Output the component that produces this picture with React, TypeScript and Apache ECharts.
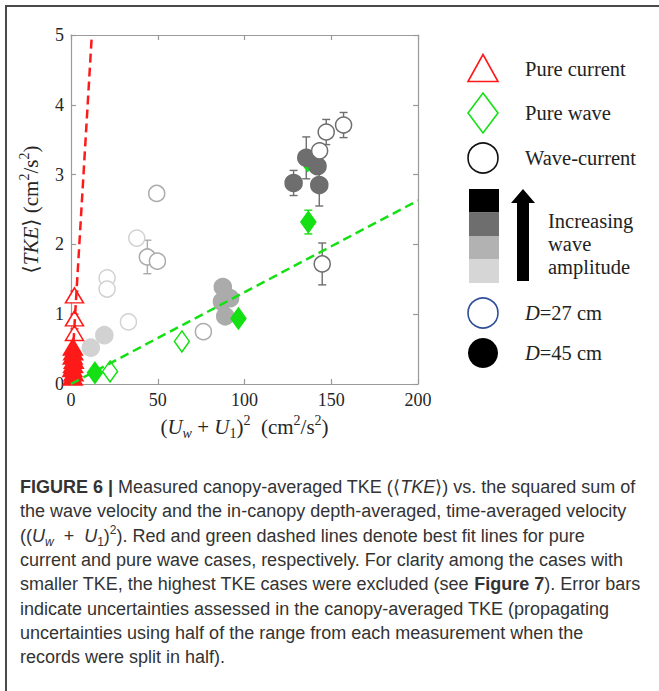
import React, { useEffect, useRef } from "react";
import * as echarts from "echarts";

// ---- data: [x (cm^2/s^2), <TKE> (cm^2/s^2), error half-range]
const pureCurrentFilled = [
  [1.0, 0.1, 0.03], [1.5, 0.16, 0.03], [0.8, 0.22, 0.03], [1.2, 0.28, 0.03],
  [1.6, 0.34, 0.03], [1.0, 0.4, 0.03], [1.3, 0.46, 0.03], [1.1, 0.53, 0.03],
];
const pureCurrentOpen = [[2.0, 1.27, 0.06], [2.0, 0.94, 0.06], [2.0, 0.73, 0.06]];
const pureWaveFilled = [[13.8, 0.16, 0.03], [96.5, 0.94, 0.03], [136.5, 3.2, 0.1], [136.8, 2.32, 0.17]];
const pureWaveOpen = [[22.5, 0.18, 0.04], [63.9, 0.61, 0.04]];
const lightFilled = [[11.4, 0.52, 0.03], [19.2, 0.7, 0.03]];
const lightOpen = [[20.8, 1.52, 0.04], [20.8, 1.36, 0.04], [33.1, 0.89, 0.04], [37.9, 2.09, 0.04]];
const mediumOpen = [[49.4, 2.73, 0.04], [44.0, 1.82, 0.24], [49.8, 1.76, 0.04], [76.3, 0.75, 0.04]];
const mediumFilled = [[87.5, 1.39, 0.03], [91.7, 1.23, 0.03], [87.0, 1.18, 0.03], [88.9, 0.97, 0.03]];
const darkFilled = [[128.3, 2.88, 0.18], [135.6, 3.24, 0.3], [142.1, 3.12, 0.05], [143.1, 2.85, 0.3]];
const darkOpen = [[143.3, 3.34, 0.05], [147.1, 3.61, 0.18], [157.1, 3.71, 0.18], [144.8, 1.72, 0.3]];
const currentFit = [[0, 0], [12, 5]];
const waveFit = [[0, 0], [200, 2.63]];

const xMin = 0, xMax = 200, xStep = 50;
const yMin = 0, yMax = 5, yStep = 1;

const legendLabels = ["Pure current", "Pure wave", "Wave-current"];
const ampLabels = ["Increasing", "wave", "amplitude"];
const captionLines = [
  "{b|FIGURE 6 |} Measured canopy-averaged TKE (⟨{i|TKE}⟩) vs. the squared sum of",
  "the wave velocity and the in-canopy depth-averaged, time-averaged velocity",
  "(({i|U}{subi|w}  +  {i|U}{sub|1}){sup|2}). Red and green dashed lines denote best fit lines for pure",
  "current and pure wave cases, respectively. For clarity among the cases with",
  "smaller TKE, the highest TKE cases were excluded (see {b|Figure 7}). Error bars",
  "indicate uncertainties assessed in the canopy-averaged TKE (propagating",
  "uncertainties using half of the range from each measurement when the",
  "records were split in half).",
];

const RED = "#ff1a1a";
const GREEN = "#14e014";
const LIGHT = "#d2d2d2";
const MED = "#ababab";
const DARK = "#6e6e6e";
const SERIF = "'Liberation Serif', 'DejaVu Serif', serif";
const SANS = "'Liberation Sans', Arial, sans-serif";
const CAP = 18;

function errSeries(data: number[][], color: string) {
  return {
    type: "custom",
    data,
    encode: { x: 0, y: 1 },
    silent: true,
    renderItem: (_p: any, api: any) => {
      const x = api.value(0), y = api.value(1), e = api.value(2);
      const t = api.coord([x, y + e]);
      const b = api.coord([x, y - e]);
      const hw = 4;
      const st = { stroke: color, lineWidth: 1.4 };
      return {
        type: "group",
        children: [
          { type: "line", shape: { x1: t[0], y1: t[1], x2: b[0], y2: b[1] }, style: st },
          { type: "line", shape: { x1: t[0] - hw, y1: t[1], x2: t[0] + hw, y2: t[1] }, style: st },
          { type: "line", shape: { x1: b[0] - hw, y1: b[1], x2: b[0] + hw, y2: b[1] }, style: st },
        ],
      };
    },
  };
}

function scatter(data: number[][], symbol: string, size: any, fill: string, border: string) {
  return {
    type: "scatter",
    data: data.map((d) => [d[0], d[1]]),
    symbol,
    symbolSize: size,
    itemStyle: { color: fill, borderColor: border, borderWidth: 1.5, opacity: 1 },
    silent: true,
  };
}

const axisLineStyle = { color: "#9a9a9a", width: 1.2 };
const nameRich = {
  i: { fontStyle: "italic", fontSize: 21, fontFamily: SERIF, color: "#262626" },
  subi: { fontStyle: "italic", fontSize: 14, fontFamily: SERIF, color: "#262626", verticalAlign: "bottom", lineHeight: 14 },
  sub: { fontSize: 14, fontFamily: SERIF, color: "#262626", verticalAlign: "bottom", lineHeight: 14 },
  sup: { fontSize: 14, fontFamily: SERIF, color: "#262626", verticalAlign: "top", lineHeight: 14 },
};

export default function App() {
  const ref = useRef<HTMLDivElement>(null);
  useEffect(() => {
    const chart = echarts.init(ref.current!, null, { renderer: "svg" });
    const legendTextStyle = { fontSize: 20.5, fontFamily: SERIF, fill: "#222", verticalAlign: "middle" };
    const legItalic = { i: { fontStyle: "italic", fontSize: 20.5, fontFamily: SERIF, fill: "#222" } };
    const graphics: any[] = [
      { type: "rect", shape: { x: 6, y: 6, width: 800, height: 800 }, style: { fill: "none", stroke: "#4a4a4a", lineWidth: 2 } },
      { type: "polygon", shape: { points: [[468, 81.5], [498, 81.5], [483, 54.5]] }, style: { fill: "none", stroke: RED, lineWidth: 1.6 } },
      { type: "polygon", shape: { points: [[483, 93], [498, 113], [483, 133], [468, 113]] }, style: { fill: "none", stroke: GREEN, lineWidth: 1.6 } },
      { type: "circle", shape: { cx: 483, cy: 158, r: 15 }, style: { fill: "none", stroke: "#111", lineWidth: 1.6 } },
      { type: "rect", shape: { x: 469, y: 189, width: 30, height: 23.5 }, style: { fill: "#000" } },
      { type: "rect", shape: { x: 469, y: 212.5, width: 30, height: 23.5 }, style: { fill: "#6e6e6e" } },
      { type: "rect", shape: { x: 469, y: 236, width: 30, height: 23.5 }, style: { fill: "#b2b2b2" } },
      { type: "rect", shape: { x: 469, y: 259.5, width: 30, height: 23.5 }, style: { fill: "#d6d6d6" } },
      { type: "polygon", shape: { points: [[517, 281], [529, 281], [529, 203], [535, 203], [523, 189], [511, 203], [517, 203]] }, style: { fill: "#000" } },
      { type: "circle", shape: { cx: 483, cy: 313, r: 15 }, style: { fill: "none", stroke: "#2f4f9a", lineWidth: 1.6 } },
      { type: "circle", shape: { cx: 483, cy: 353, r: 15 }, style: { fill: "#000" } },
      { type: "text", x: 525, y: 69, style: { ...legendTextStyle, text: legendLabels[0] } },
      { type: "text", x: 525, y: 113, style: { ...legendTextStyle, text: legendLabels[1] } },
      { type: "text", x: 525, y: 158, style: { ...legendTextStyle, text: legendLabels[2] } },
      { type: "text", x: 548, y: 221, style: { ...legendTextStyle, text: ampLabels[0] } },
      { type: "text", x: 548, y: 244, style: { ...legendTextStyle, text: ampLabels[1] } },
      { type: "text", x: 548, y: 267, style: { ...legendTextStyle, text: ampLabels[2] } },
      { type: "text", x: 525, y: 313, style: { ...legendTextStyle, text: "{i|D}=27 cm", rich: legItalic } },
      { type: "text", x: 525, y: 353, style: { ...legendTextStyle, text: "{i|D}=45 cm", rich: legItalic } },
    ];
    const capRich = {
      b: { fontWeight: "bold", fontSize: CAP, fontFamily: SANS, fill: "#333" },
      i: { fontStyle: "italic", fontSize: CAP, fontFamily: SANS, fill: "#333" },
      subi: { fontStyle: "italic", fontSize: 12, fontFamily: SANS, fill: "#333", verticalAlign: "bottom", lineHeight: 12 },
      sub: { fontSize: 12, fontFamily: SANS, fill: "#333", verticalAlign: "bottom", lineHeight: 12 },
      sup: { fontSize: 12, fontFamily: SANS, fill: "#333", verticalAlign: "top", lineHeight: 12 },
    };
    captionLines.forEach((t, k) => {
      graphics.push({
        type: "text", x: 20, y: 487 + k * 24.3,
        style: { text: t, fontSize: CAP, fontFamily: SANS, fill: "#333", verticalAlign: "middle", lineHeight: 24, rich: capRich },
      });
    });

    const option: any = {
      animation: false,
      backgroundColor: "#fff",
      grid: { left: 71, right: 241, top: 35, bottom: 307, containLabel: false },
      xAxis: [
        {
          type: "value", min: xMin, max: xMax, interval: xStep, position: "bottom",
          axisLine: { show: true, onZero: false, lineStyle: axisLineStyle },
          axisTick: { show: true, inside: true, length: 5, lineStyle: axisLineStyle },
          axisLabel: { color: "#262626", fontSize: 18, fontFamily: SERIF, margin: 7 },
          splitLine: { show: false },
          name: "({i|U}{subi|w} + {i|U}{sub|1}){sup|2}  (cm{sup|2}/s{sup|2})",
          nameLocation: "middle", nameGap: 28,
          nameTextStyle: { fontSize: 21, fontFamily: SERIF, color: "#262626", lineHeight: 27, rich: nameRich },
        },
        {
          type: "value", min: xMin, max: xMax, interval: xStep, position: "top",
          axisLine: { show: true, onZero: false, lineStyle: axisLineStyle },
          axisTick: { show: true, inside: true, length: 5, lineStyle: axisLineStyle },
          axisLabel: { show: false }, splitLine: { show: false },
        },
      ],
      yAxis: [
        {
          type: "value", min: yMin, max: yMax, interval: yStep, position: "left",
          axisLine: { show: true, onZero: false, lineStyle: axisLineStyle },
          axisTick: { show: true, inside: true, length: 5, lineStyle: axisLineStyle },
          axisLabel: { color: "#262626", fontSize: 18, fontFamily: SERIF, margin: 7 },
          splitLine: { show: false },
          name: "⟨{i|TKE}⟩ (cm{sup|2}/s{sup|2})",
          nameLocation: "middle", nameGap: 21, nameRotate: 90,
          nameTextStyle: { fontSize: 21, fontFamily: SERIF, color: "#262626", lineHeight: 27, rich: nameRich },
        },
        {
          type: "value", min: yMin, max: yMax, interval: yStep, position: "right",
          axisLine: { show: true, onZero: false, lineStyle: axisLineStyle },
          axisTick: { show: true, inside: true, length: 5, lineStyle: axisLineStyle },
          axisLabel: { show: false }, splitLine: { show: false },
        },
      ],
      graphic: graphics,
      series: [
        scatter(lightFilled, "circle", 17, LIGHT, LIGHT), errSeries(lightFilled, LIGHT),
        scatter(lightOpen, "circle", 16, "#fff", LIGHT), errSeries(lightOpen, LIGHT),
        scatter(mediumOpen, "circle", 16, "#fff", MED), errSeries(mediumOpen, MED),
        scatter(mediumFilled, "circle", 17, MED, MED), errSeries(mediumFilled, MED),
        scatter(pureWaveOpen, "diamond", [15, 21], "#fff", GREEN), errSeries(pureWaveOpen, GREEN),
        scatter(pureWaveFilled, "diamond", [15, 21], GREEN, GREEN), errSeries(pureWaveFilled, GREEN),
        scatter(darkFilled, "circle", 17, DARK, DARK), errSeries(darkFilled, DARK),
        scatter(darkOpen, "circle", 16, "#fff", DARK), errSeries(darkOpen, DARK),
        scatter(pureCurrentOpen, "triangle", [18, 15], "#fff", RED), errSeries(pureCurrentOpen, RED),
        scatter(pureCurrentFilled, "triangle", [19, 16], RED, RED), errSeries(pureCurrentFilled, RED),
        {
          type: "line", data: currentFit, symbol: "none", silent: true,
          lineStyle: { color: RED, width: 2.5, type: [9, 5] },
        },
        {
          type: "line", data: waveFit, symbol: "none", silent: true,
          lineStyle: { color: GREEN, width: 2.5, type: [9, 5] },
        },
      ],
    };
    chart.setOption(option);
    return () => chart.dispose();
  }, []);
  return (
    <div
      ref={ref}
      style={{ position: "fixed", left: 0, top: 0, width: 659, height: 691, background: "#fff" }}
    />
  );
}
